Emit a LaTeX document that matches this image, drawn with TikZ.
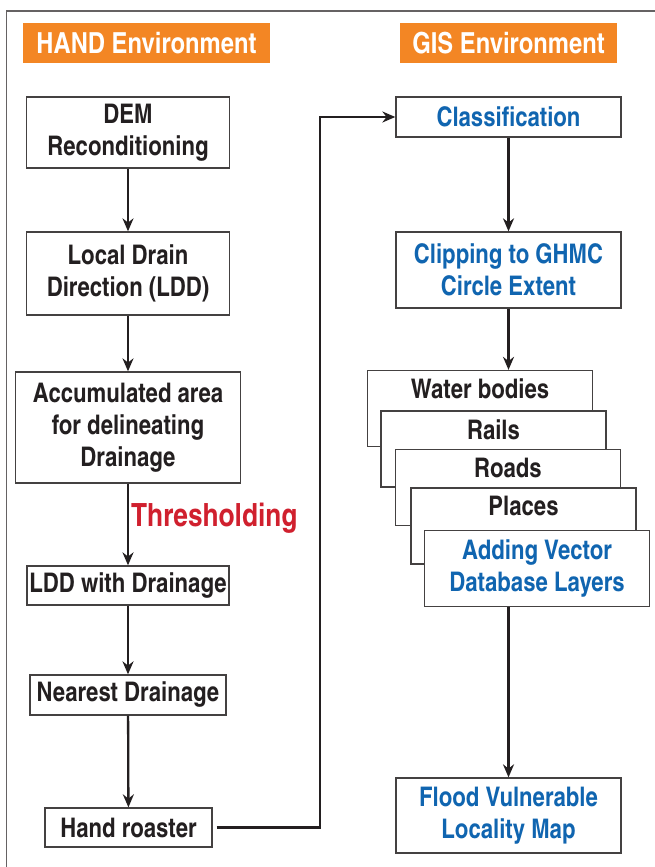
\documentclass[tikz,border=0pt]{standalone}
\usepackage{fontspec}
\setmainfont{texgyreheroscn-bold.otf}
\usetikzlibrary{positioning, arrows.meta}

\definecolor{handorange}{RGB}{243,134,36}
\definecolor{gisblue}{RGB}{16,101,176}
\definecolor{threshred}{RGB}{208,32,46}
\definecolor{inkblack}{RGB}{35,31,32}

\begin{document}
\begin{tikzpicture}[x=1pt, y=-1pt,
    box/.style={draw=inkblack!85, line width=1.3pt, fill=white, align=center,
        inner sep=0pt, text=inkblack, font=\fontsize{27}{32}\selectfont},
    gisbox/.style={box, text=gisblue},
    layer/.style={box, minimum width=225, minimum height=76},
    header/.style={fill=handorange, text=white, inner sep=0pt,
        minimum height=40, font=\fontsize{29}{29}\selectfont},
    flow/.style={-{Stealth[length=13pt, width=11pt]}, line width=2.3pt, draw=inkblack},
]
    \useasboundingbox (0,0) rectangle (655,867);

    % Outer frame, cut at the right and bottom
    \draw[line width=1.3pt, inkblack!70] (6.5,867) |- (655,11);

    % Headers
    \node[header, minimum width=247] (handhead) at (146.5,43) {HAND Environment};
    \node[header, minimum width=217] (gishead) at (508.5,43) {GIS Environment};

    % HAND steps
    \node[box, minimum width=203, minimum height=71] (dem) at (128,132.5) {DEM\\Reconditioning};
    \node[box, minimum width=203, minimum height=83] (ldd) at (128,273.5) {Local Drain\\Direction (LDD)};
    \node[box, minimum width=225, minimum height=111] (accum) at (128,427.5) {Accumulated area\\for delineating\\Drainage};
    \node[box, minimum width=202, minimum height=39] (drain) at (128,585.5) {LDD with Drainage};
    \node[box, minimum width=196, minimum height=40] (nearest) at (128,695) {Nearest Drainage};
    \node[box, minimum width=167, minimum height=39] (roaster) at (128.5,827.5) {Hand roaster};

    \draw[flow] (dem) -- (ldd);
    \draw[flow] (ldd) -- (accum);
    \draw[flow] (accum) -- (drain);
    \draw[flow] (drain) -- (nearest);
    \draw[flow] (nearest) -- (roaster);
    \node[anchor=west, inner sep=0pt, text=threshred, font=\fontsize{32}{36}\selectfont]
        (thresh) at (131,518) {Thresholding};

    % GIS steps
    \node[gisbox, minimum width=225, minimum height=40] (class) at (508.5,117) {Classification};
    \node[gisbox, minimum width=225, minimum height=76] (clip) at (508.5,270) {Clipping to GHMC\\Circle Extent};

    % Stacked vector layers
    \foreach \name/\txt/\cx/\cy in {water/Water bodies/480/408.5, rails/Rails/493.5/449,
        roads/Roads/508/487.5, places/Places/523.5/526} {
        \node[layer] (\name) at (\cx,\cy) {};
        \node[below=9pt of \name.north, inner sep=0pt, text=inkblack,
            font=\fontsize{27}{32}\selectfont] {\txt};
    }
    \node[layer, text=gisblue] (vector) at (537,568.5) {Adding Vector\\Database Layers};

    \node[gisbox, minimum width=225, minimum height=75] (flood) at (508.5,815.5) {Flood Vulnerable\\Locality Map};

    \draw[flow] (class) -- (clip);
    \draw[flow] (clip.south) -- (clip.south |- water.north);
    \draw[flow] (flood.north |- vector.south) -- (flood.north);

    % HAND output handed over to GIS
    \coordinate (bend) at (320,0);
    \draw[flow] ([xshift=4pt]roaster.east) -| (bend |- class.west) -- (class.west);
\end{tikzpicture}
\end{document}
